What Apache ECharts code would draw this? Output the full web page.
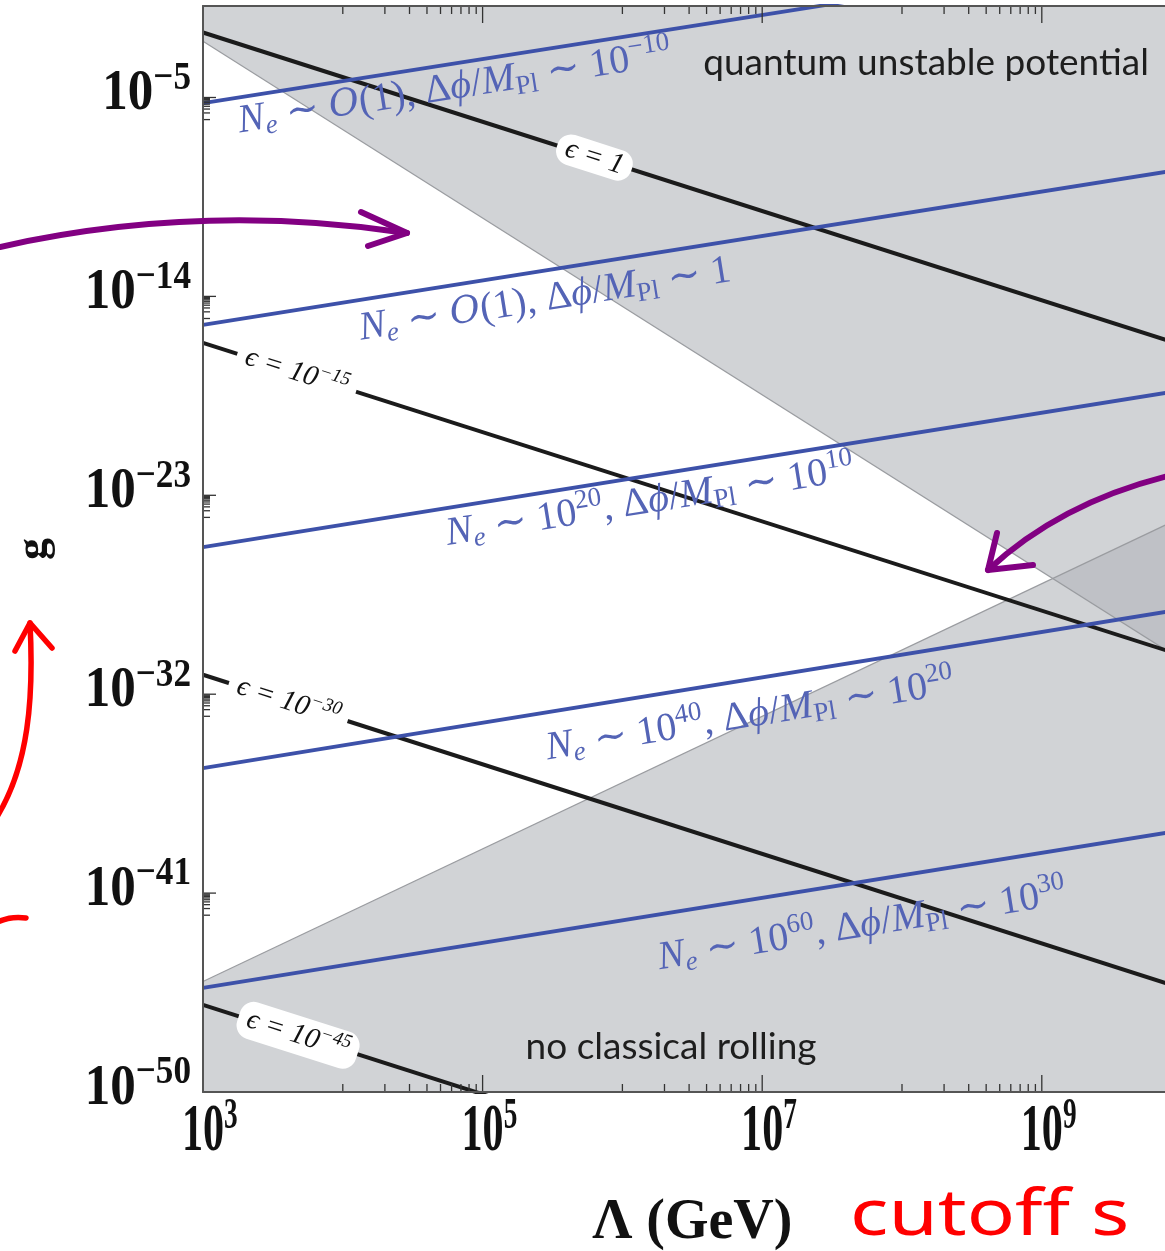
<!DOCTYPE html>
<html><head><meta charset="utf-8">
<script src="https://cdn.jsdelivr.net/npm/echarts@6/dist/echarts.min.js"></script>
<style>html,body{margin:0;padding:0;background:#fff}#c{width:1165px;height:1251px}</style>
</head><body><div id="c"></div>
<script>
// ---------------- data (log10 values) ----------------
const xRangeExp = [3, 10];          // Λ from 1e3 GeV
const yRangeExp = [-50, -0.86];     // g
const xTickLabels = ['10^3', '10^5', '10^7', '10^9'];
const yTickLabels = ['10^-50', '10^-41', '10^-32', '10^-23', '10^-14', '10^-5'];
const xMinorDecades = [4, 6, 8];

// ε lines: log10 g at Λ = 1e3 and Λ = 1e10
const epsilonNames = ['1', '10^-15', '10^-30', '10^-45'];
const epsilonAt1e3 = [-2.06, -16.1, -31.12, -46.06];
const epsilonAt1e10 = [-16.2, -30.24, -45.3, -60.2];

// N_e lines
const efoldNe = ['O(1)', 'O(1)', '10^20', '10^40', '10^60'];
const efoldDphi = ['10^-10', '1', '10^10', '10^20', '10^30'];
const efoldAt1e3 = [-5.25, -15.29, -25.34, -35.34, -45.29];
const efoldAt1e10 = [1.72, -8.25, -18.25, -28.16, -38.16];

// shaded regions (boundary lines)
const unstableEdge = [[3, -2.45], [10, -30.45]];
const noRollingEdge = [[3, -45.0], [10, -24.0]];
const regionNames = ['quantum unstable potential', 'no classical rolling'];

// ---------------- annotation placement (data coords, log10) ----------------
const epsilonLabelX = [5.80, 3.67, 3.61, 3.68];
const efoldLabelPos = [[4.80, -4.57], [5.446, -14.16], [6.197, -23.30], [6.913, -32.99], [7.714, -42.49]];
const regionLabelPos = [[8.172, -3.44], [6.348, -47.96]];

// ---------------- helpers ----------------
const P = e => Math.pow(10, e);
const xMin = P(xRangeExp[0]), xMax = P(xRangeExp[1]);
const yMin = P(yRangeExp[0]), yMax = P(yRangeExp[1]);
const expOf = s => parseFloat(s.split('^')[1]);
const MINUS = '\u2212';
function supTok(s, base, sup) {
  const m = s.split('^');
  if (m.length === 1) return '{' + base + '|' + s + '}';
  return '{' + base + '|' + m[0] + '}{' + sup + '|' + m[1].replace('-', MINUS) + '}';
}
const BLACK = '#1b1b1b', BLUE = '#3d51a9', BLUE_T = '#5464b6';
const SERIF = '"Liberation Serif", "DejaVu Serif", serif';

const chart = echarts.init(document.getElementById('c'));

// tick definitions
const tickData = [];
xTickLabels.forEach(s => tickData.push([P(expOf(s)), yMin, 1, 0]));
xMinorDecades.forEach(d => { for (let m = 1; m <= 9; m++) tickData.push([m * P(d), yMin, 0, 0]); });
yTickLabels.forEach(s => {
  const e = expOf(s);
  tickData.push([xMin, P(e), 1, 1]);
  if (e - 1 >= yRangeExp[0]) for (let m = 1; m <= 9; m++) tickData.push([xMin, m * P(e - 1), 0, 1]);
});
const tickLabelData = [];
xTickLabels.forEach((s, i) => tickLabelData.push([P(expOf(s)), yMin, i, 0]));
yTickLabels.forEach((s, i) => tickLabelData.push([xMin, P(expOf(s)), i, 1]));

function renderTick(params, api) {
  const major = api.value(2), ax = api.value(3);
  const st = { stroke: '#333', lineWidth: 1.3 };
  if (ax === 0) {
    const v = api.value(0);
    const b = api.coord([v, yMin]), t = api.coord([v, yMax]);
    const L = major ? 17 : 8;
    return { type: 'group', children: [
      { type: 'line', shape: { x1: b[0], y1: b[1], x2: b[0], y2: b[1] - L }, style: st },
      { type: 'line', shape: { x1: t[0], y1: t[1], x2: t[0], y2: t[1] + L }, style: st }] };
  }
  const v = api.value(1);
  const l = api.coord([xMin, v]), r = api.coord([xMax, v]);
  const L = major ? 13 : 7;
  return { type: 'group', children: [
    { type: 'line', shape: { x1: l[0], y1: l[1], x2: l[0] + L, y2: l[1] }, style: st },
    { type: 'line', shape: { x1: r[0], y1: r[1], x2: r[0] - L, y2: r[1] }, style: st }] };
}

function renderTickLabel(params, api) {
  const i = api.value(2), ax = api.value(3);
  if (ax === 0) {
    const p = api.coord([api.value(0), yMin]);
    const F = 68, s = 0.62;
    return { type: 'text', x: p[0] - F * s / 2, y: p[1] + 40, scaleX: s,
      style: { text: supTok(xTickLabels[i], 'b', 's'), align: 'left', verticalAlign: 'middle',
        rich: {
          b: { fontFamily: SERIF, fontWeight: 'bold', fontSize: F, fill: '#111' },
          s: { fontFamily: SERIF, fontWeight: 'bold', fontSize: 44, fill: '#111', padding: [0, 0, 30, 0] } } } };
  }
  const p = api.coord([xMin, api.value(1)]);
  return { type: 'text', x: p[0] - 12, y: p[1] - 3, scaleX: 0.88,
    style: { text: supTok(yTickLabels[i], 'b', 's'), align: 'right', verticalAlign: 'middle',
      rich: {
        b: { fontFamily: SERIF, fontWeight: 'bold', fontSize: 58, fill: '#111' },
        s: { fontFamily: SERIF, fontWeight: 'bold', fontSize: 40, fill: '#111', padding: [0, 0, 32, 0] } } } };
}

function lineAngle(api, a, b) {
  const p1 = api.coord([xMin, P(a)]), p2 = api.coord([xMax, P(b)]);
  return -Math.atan2(p2[1] - p1[1], p2[0] - p1[0]);
}

function renderEpsLabel(params, api) {
  const i = api.value(2);
  const p = api.coord([api.value(0), api.value(1)]);
  const txt = '{it|\u03F5}{rm| = }' + supTok(epsilonNames[i], 'rm', 'sp');
  return { type: 'text', x: p[0], y: p[1], rotation: lineAngle(api, epsilonAt1e3[i], epsilonAt1e10[i]),
    z2: 10,
    style: { text: txt, align: 'center', verticalAlign: 'middle', backgroundColor: '#fff',
      padding: [1, 9, 1, 9], borderRadius: 14,
      rich: {
        it: { fontFamily: SERIF, fontStyle: 'italic', fontSize: 29, fill: '#111' },
        rm: { fontFamily: SERIF, fontStyle: 'italic', fontSize: 29, fill: '#111' },
        sp: { fontFamily: SERIF, fontStyle: 'italic', fontSize: 19, fill: '#111', padding: [0, 0, 17, 0] } } } };
}

function efoldText(i) {
  const ne = efoldNe[i];
  const neTok = ne === 'O(1)' ? '{cal|O}{rm|(1)}' : supTok(ne, 'rm', 'sp');
  return '{it|N}{sbi|e}{rm| \u223C }' + neTok + '{rm|, \u0394}{it|\u03D5}{rm|/}{it|M}{sb|Pl}{rm| \u223C }' + supTok(efoldDphi[i], 'rm', 'sp');
}
function renderEfoldLabel(params, api) {
  const i = api.value(2);
  const p = api.coord([api.value(0), api.value(1)]);
  const c = BLUE_T;
  return { type: 'text', x: p[0], y: p[1], rotation: lineAngle(api, efoldAt1e3[i], efoldAt1e10[i]),
    style: { text: efoldText(i), align: 'center', verticalAlign: 'middle',
      rich: {
        rm: { fontFamily: SERIF, fontSize: 40, fill: c },
        it: { fontFamily: SERIF, fontStyle: 'italic', fontSize: 40, fill: c },
        cal: { fontFamily: '"DejaVu Serif", serif', fontStyle: 'italic', fontSize: 37, fill: c },
        sb: { fontFamily: SERIF, fontSize: 27, fill: c, padding: [18, 0, 0, 0] },
        sbi: { fontFamily: SERIF, fontStyle: 'italic', fontSize: 27, fill: c, padding: [18, 0, 0, 0] },
        sp: { fontFamily: SERIF, fontSize: 27, fill: c, padding: [0, 0, 24, 0] } } } };
}
function renderRegionLabel(params, api) {
  const i = api.value(2);
  const p = api.coord([api.value(0), api.value(1)]);
  return { type: 'text', x: p[0], y: p[1],
    style: { text: regionNames[i], align: 'center', verticalAlign: 'middle',
      fontFamily: 'Lato, "Open Sans", sans-serif', fontSize: 37, fill: '#1e1e1e' } };
}
// shaded region polygons: region 0 above its edge, region 1 below its edge
function renderRegion(params, api) {
  const i = api.value(2);
  const edge = i === 0 ? unstableEdge : noRollingEdge;
  const cap = i === 0 ? yMax : yMin;
  const pts = edge.map(d => api.coord([P(d[0]), P(d[1])]));
  pts.push(api.coord([P(edge[edge.length - 1][0]), cap]));
  pts.push(api.coord([P(edge[0][0]), cap]));
  return { type: 'polygon', shape: { points: pts }, style: { fill: 'rgba(178,182,187,0.6)', stroke: null } };
}

const toPts = arr => arr.map(d => [P(d[0]), P(d[1])]);
const series = [];
series.push({ type: 'custom', name: 'regions', renderItem: renderRegion, silent: true, z: 1, clip: true,
  data: [[xMin, yMax, 0], [xMin, yMin, 1]] });
series.push({ type: 'line', name: 'unstable edge', data: toPts(unstableEdge), symbol: 'none', silent: true, z: 2,
  lineStyle: { color: '#9a9ca0', width: 1.2 } });
series.push({ type: 'line', name: 'no rolling edge', data: toPts(noRollingEdge), symbol: 'none', silent: true, z: 2,
  lineStyle: { color: '#9a9ca0', width: 1.2 } });
epsilonNames.forEach((n, i) => series.push({ type: 'line', name: 'eps ' + n, symbol: 'none', z: 3, silent: true,
  data: [[xMin, P(epsilonAt1e3[i])], [xMax, P(epsilonAt1e10[i])]],
  lineStyle: { color: BLACK, width: 4 } }));
efoldNe.forEach((n, i) => series.push({ type: 'line', name: 'Ne ' + i, symbol: 'none', z: 3, silent: true,
  data: [[xMin, P(efoldAt1e3[i])], [xMax, P(efoldAt1e10[i])]],
  lineStyle: { color: BLUE, width: 3.8 } }));
series.push({ type: 'custom', name: 'ticks', renderItem: renderTick, data: tickData, z: 8, silent: true, clip: false });
series.push({ type: 'custom', name: 'tickLabels', renderItem: renderTickLabel, data: tickLabelData, z: 8, silent: true, clip: false });
series.push({ type: 'custom', name: 'epsLabels', renderItem: renderEpsLabel, z: 6, silent: true,
  data: epsilonLabelX.map((lx, i) => {
    const ly = epsilonAt1e3[i] + (epsilonAt1e10[i] - epsilonAt1e3[i]) * (lx - 3) / 7;
    return [P(lx), P(ly), i];
  }) });
series.push({ type: 'custom', name: 'efoldLabels', renderItem: renderEfoldLabel, z: 6, silent: true,
  data: efoldLabelPos.map((d, i) => [P(d[0]), P(d[1]), i]) });
series.push({ type: 'custom', name: 'regionLabels', renderItem: renderRegionLabel, z: 6, silent: true,
  data: regionLabelPos.map((d, i) => [P(d[0]), P(d[1]), i]) });

const axisCommon = { type: 'log', logBase: 10, splitLine: { show: false }, axisTick: { show: false },
  axisLabel: { show: false }, axisLine: { show: true, onZero: false, lineStyle: { color: '#555', width: 2 } }, z: 9 };

const PURPLE = '#820082', RED = '#ff0000';
chart.setOption({
  animation: false,
  backgroundColor: '#fff',
  grid: { left: 203, top: 6, width: 978.6, height: 1086, outerBoundsMode: 'none', containLabel: false },
  xAxis: [
    Object.assign({}, axisCommon, { min: xMin, max: xMax, position: 'bottom',
      name: '\u039B (GeV)', nameLocation: 'middle', nameGap: 104,
      nameTextStyle: { fontFamily: SERIF, fontWeight: 'bold', fontSize: 56, color: '#111' } }),
    Object.assign({}, axisCommon, { min: xMin, max: xMax, position: 'top' })
  ],
  yAxis: [
    Object.assign({}, axisCommon, { min: yMin, max: yMax, position: 'left',
      name: 'g', nameLocation: 'middle', nameGap: 146, nameRotate: 90,
      nameTextStyle: { fontFamily: SERIF, fontWeight: 'bold', fontSize: 44, color: '#111' } }),
    Object.assign({}, axisCommon, { min: yMin, max: yMax, position: 'right' })
  ],
  series: series,
  graphic: [
    { type: 'bezierCurve', z: 100, shape: { x1: 0, y1: 247, cpx1: 200, cpy1: 202, x2: 407, y2: 233 },
      style: { stroke: PURPLE, lineWidth: 6, fill: null, lineCap: 'round' } },
    { type: 'polyline', z: 100, shape: { points: [[361, 212], [407, 233], [368, 246]] },
      style: { stroke: PURPLE, lineWidth: 6, fill: null, lineCap: 'round', lineJoin: 'round' } },
    { type: 'bezierCurve', z: 100, shape: { x1: 1168, y1: 476, cpx1: 1060, cpy1: 503, x2: 988, y2: 570 },
      style: { stroke: PURPLE, lineWidth: 6, fill: null, lineCap: 'round' } },
    { type: 'polyline', z: 100, shape: { points: [[997, 533], [988, 570], [1033, 565]] },
      style: { stroke: PURPLE, lineWidth: 6, fill: null, lineCap: 'round', lineJoin: 'round' } },
    { type: 'bezierCurve', z: 100, shape: { x1: -2, y1: 815, cpx1: 28, cpy1: 765, cpx2: 34, cpy2: 700, x2: 30, y2: 623 },
      style: { stroke: RED, lineWidth: 5.5, fill: null, lineCap: 'round' } },
    { type: 'polyline', z: 100, shape: { points: [[15, 651], [30, 623], [52, 648]] },
      style: { stroke: RED, lineWidth: 5.5, fill: null, lineCap: 'round', lineJoin: 'round' } },
    { type: 'bezierCurve', z: 100, shape: { x1: -2, y1: 922, cpx1: 10, cpy1: 916, x2: 26, y2: 918 },
      style: { stroke: RED, lineWidth: 5.5, fill: null, lineCap: 'round' } },
    { type: 'text', z: 100, x: 850, y: 1217, scaleX: 1.25,
      style: { text: 'cutoff s', fill: RED, font: '64px "Noto Sans", sans-serif', align: 'left', verticalAlign: 'middle' } }
  ]
});
</script></body></html>
